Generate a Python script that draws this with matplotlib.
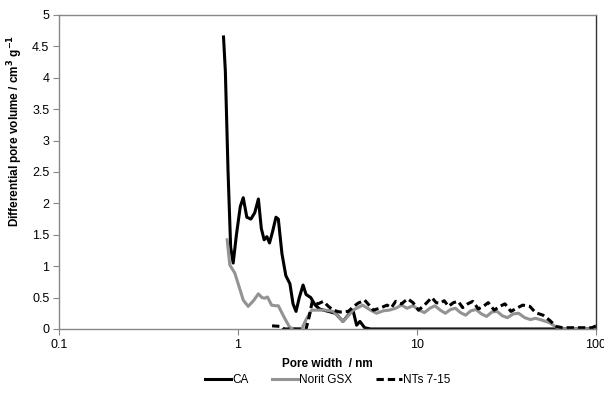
import matplotlib
matplotlib.use("Agg")
import matplotlib.pyplot as plt

plt.rcParams['font.family'] = ['Liberation Sans', 'DejaVu Sans']

# CA
ca_x = [0.83, 0.85, 0.88, 0.91, 0.94, 0.98, 1.03, 1.07, 1.12, 1.18, 1.24, 1.30, 1.35, 1.40,
        1.45, 1.50, 1.56, 1.63, 1.68, 1.76, 1.85, 1.95, 2.03, 2.11, 2.2, 2.31, 2.4, 2.55,
        2.7, 2.85, 3.0, 3.2, 3.5, 3.86, 4.2, 4.39, 4.6, 4.8, 5.1, 5.5, 60, 100]
ca_y = [4.65, 4.1, 2.5, 1.3, 1.05, 1.5, 1.95, 2.09, 1.78, 1.75, 1.85, 2.07, 1.6, 1.42,
        1.47, 1.37, 1.55, 1.78, 1.75, 1.2, 0.85, 0.72, 0.4, 0.28, 0.5, 0.70, 0.55, 0.50,
        0.38, 0.32, 0.30, 0.28, 0.25, 0.12, 0.25, 0.30, 0.06, 0.12, 0.02, 0.0, 0.0, 0.0]

# Norit GSX
norit_x = [0.87, 0.9, 0.96, 1.02, 1.07, 1.14, 1.22, 1.30, 1.36, 1.41, 1.46, 1.54, 1.62,
           1.68, 1.8, 1.95, 2.1, 2.27, 2.4, 2.58, 2.8, 3.1, 3.4, 3.86, 4.4, 4.97, 5.5,
           5.95, 6.5, 7.0, 7.6, 8.2, 8.8, 9.5, 10.3, 11.0, 11.8, 12.6, 13.5, 14.4, 15.4,
           16.4, 17.5, 18.7, 20, 21.4, 22.9, 24.5, 26.2, 28, 30, 32, 34.5, 37, 40, 43,
           46, 50, 55, 60, 65, 100]
norit_y = [1.42, 1.02, 0.89, 0.65, 0.46, 0.36, 0.45, 0.56, 0.50, 0.49, 0.51, 0.38, 0.37,
           0.37, 0.2, 0.02, 0.0, 0.0, 0.15, 0.30, 0.30, 0.30, 0.28, 0.12, 0.30, 0.38, 0.30,
           0.25, 0.29, 0.30, 0.33, 0.38, 0.33, 0.37, 0.30, 0.26, 0.33, 0.37, 0.30, 0.25, 0.31,
           0.33, 0.26, 0.22, 0.29, 0.31, 0.24, 0.20, 0.27, 0.28, 0.21, 0.18, 0.24, 0.25, 0.18,
           0.15, 0.17, 0.14, 0.10, 0.03, 0.0, 0.0]

# NTs 7-15
nts_x = [1.55, 1.75, 1.8, 2.4, 2.5, 2.6, 2.8, 3.0, 3.2, 3.4, 3.7, 4.13, 4.4, 4.68, 5.1,
         5.4, 5.7, 6.2, 6.8, 7.2, 7.6, 8.2, 8.86, 9.5, 10.2, 11.0, 12.1, 12.8, 13.4, 14.2,
         15.0, 16, 17, 18, 19.2, 20.5, 22, 23.5, 25, 27, 29, 31, 33.5, 36, 39, 42.7, 46,
         50.6, 55, 60, 65, 95, 100]
nts_y = [0.05, 0.04, 0.0, 0.0, 0.2, 0.44, 0.40, 0.44, 0.36, 0.30, 0.27, 0.28, 0.35, 0.41,
         0.46, 0.38, 0.30, 0.33, 0.38, 0.34, 0.44, 0.40, 0.48, 0.42, 0.30, 0.38, 0.50, 0.42,
         0.41, 0.45, 0.36, 0.42, 0.44, 0.34, 0.40, 0.44, 0.32, 0.36, 0.42, 0.30, 0.36, 0.40,
         0.28, 0.33, 0.38, 0.36, 0.26, 0.22, 0.14, 0.04, 0.02, 0.02, 0.05]

fig = plt.figure(figsize=(6.04, 4.01), dpi=100)
ax = fig.add_axes([0.0977, 0.1796, 0.889, 0.783])

ax.plot(ca_x, ca_y, color='black', lw=2.2, label='CA')
ax.plot(norit_x, norit_y, color='#939393', lw=2.2, label='Norit GSX')
ax.plot(nts_x, nts_y, color='black', lw=2.2, ls=(0, (2.4, 1.3)), label='NTs 7-15')

ax.set_xscale('log')
ax.set_xlim(0.1, 100)
ax.set_ylim(0, 5)
ax.set_xticks([0.1, 1, 10, 100])
ax.set_xticklabels(['0.1', '1', '10', '100'])
ax.xaxis.set_minor_locator(matplotlib.ticker.NullLocator())
yt = [0, 0.5, 1, 1.5, 2, 2.5, 3, 3.5, 4, 4.5, 5]
ax.set_yticks(yt)
ax.set_yticklabels(['%g' % v for v in yt])

for s in ax.spines.values():
    s.set_color('#888888')
    s.set_linewidth(1.0)
ax.spines['right'].set_color('#333333')
ax.tick_params(direction='out', length=4, width=0.8, color='#888888', labelsize=9, pad=3)

ax.set_xlabel('Pore width  / nm', fontsize=8.5, fontweight='bold', labelpad=5)
ax.set_ylabel('Differential pore volume / cm$^\\mathbf{3}$ g$^\\mathbf{-1}$', fontsize=8.5,
              fontweight='bold')
ax.yaxis.set_label_coords(-0.063, 0.63)

fig.legend(loc='center', bbox_to_anchor=(0.543, 0.052), ncol=3, frameon=False,
           fontsize=8.5, handlelength=2.2, columnspacing=2.0, handletextpad=0.1)

fig.savefig('out.png', dpi=100)
